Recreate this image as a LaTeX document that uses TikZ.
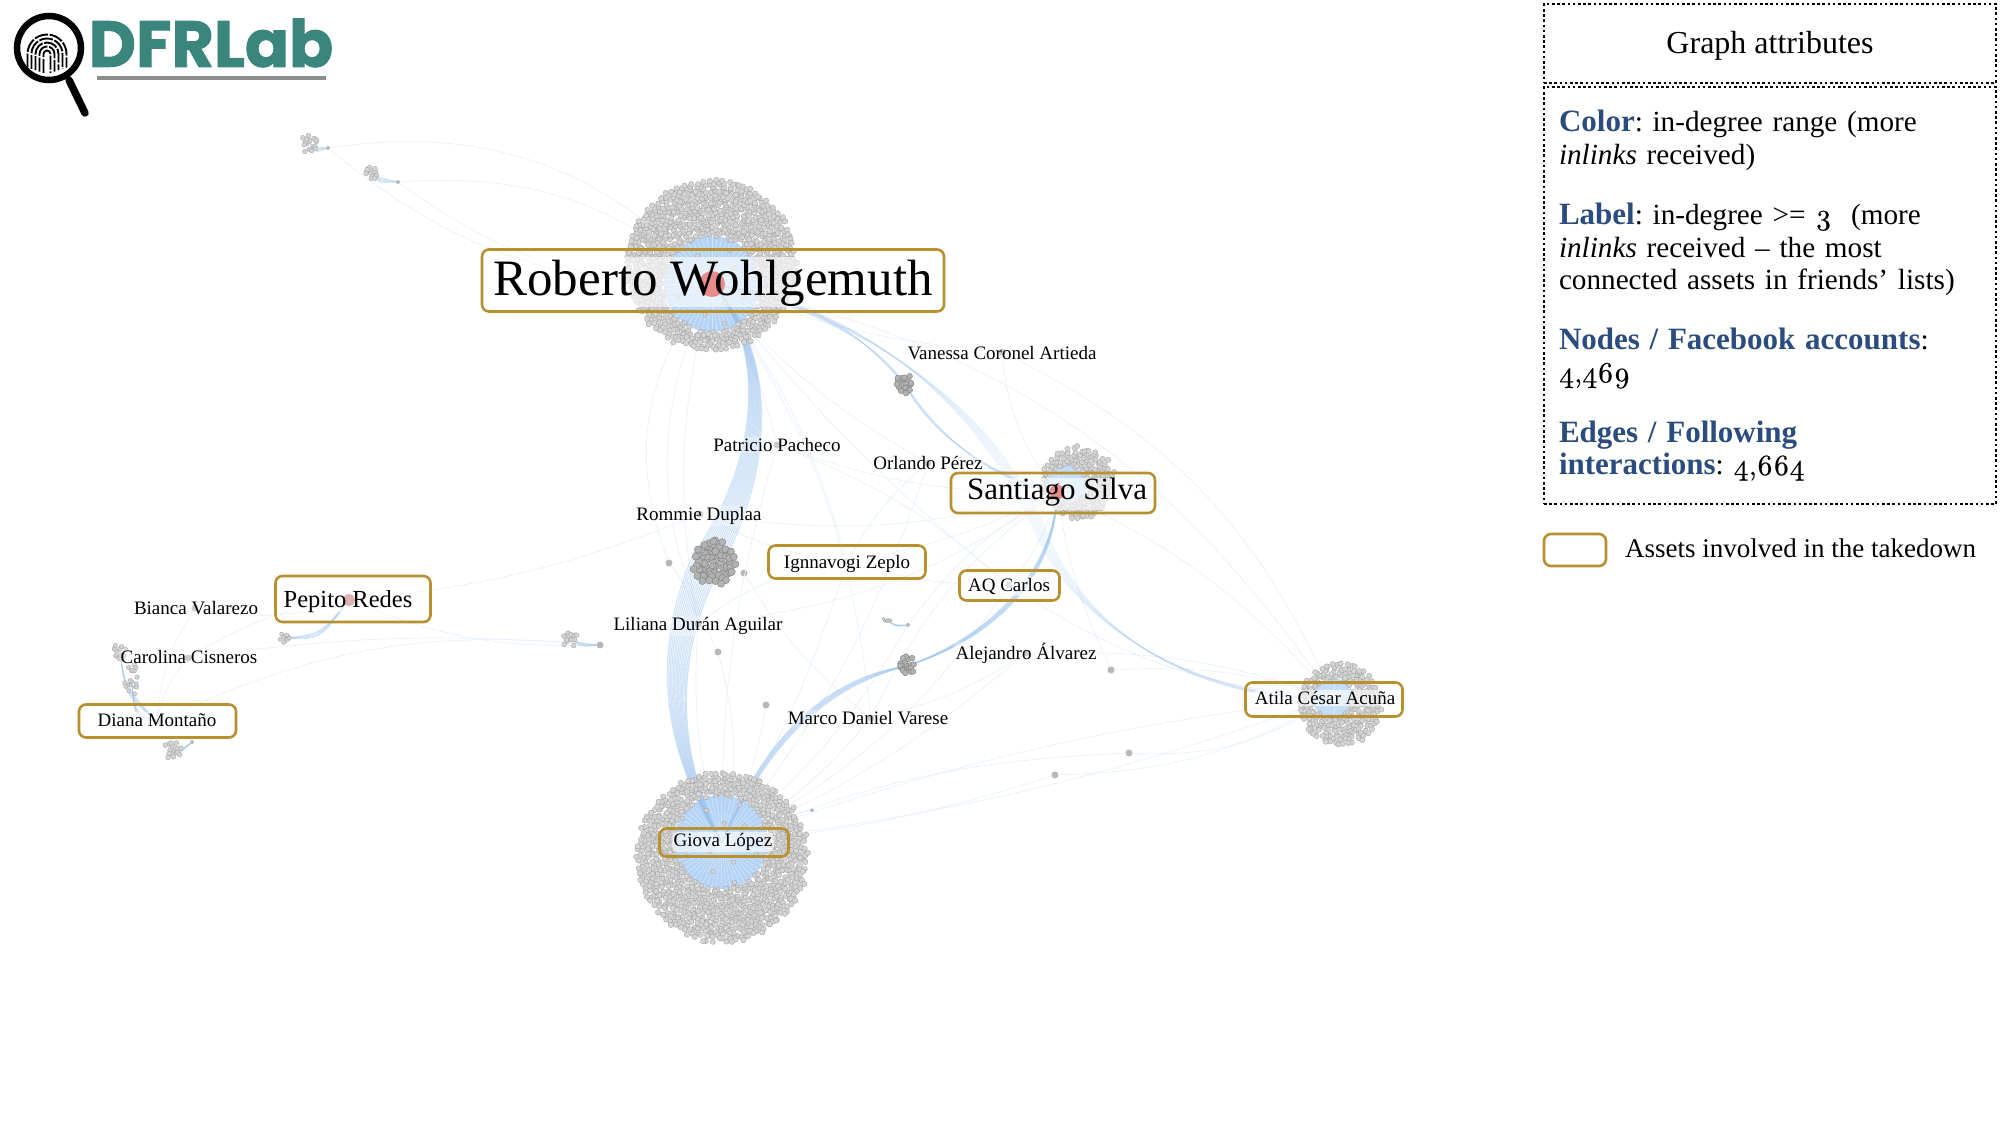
\documentclass[tikz,border=0pt]{standalone}
\usepackage{fontspec}
\setmainfont{Liberation Serif}
\frenchspacing
\newfontfamily\logofont{Poppins}[BoldFeatures={FakeBold=1.4}]
\newfontfamily\oldnum{lmroman10-regular.otf}[Numbers=OldStyle,FakeBold=0.5]
\definecolor{gold}{HTML}{B8902F}
\definecolor{logoteal}{HTML}{3A867C}
\definecolor{headblue}{HTML}{2B4C7E}
\definecolor{edgeblue}{HTML}{9CC3EE}
\definecolor{edgepale}{HTML}{E8F0FB}
\definecolor{discblue}{HTML}{B4D3F5}
\definecolor{hotpink}{HTML}{E98C8C}
\definecolor{softpink}{HTML}{DDB4B4}
\usetikzlibrary{arrows.meta,positioning,calc}
\newcommand{\hd}[1]{{\fontsize{31}{32.6}\selectfont\bfseries\color{headblue}#1}}
\newcommand{\dotcloud}[9]{%
  \foreach \i in {1,...,#7}{%
    \pgfmathsetmacro\ang{360*(0.381966*\i-floor(0.381966*\i))}%
    \pgfmathsetmacro\rad{#3*sqrt(\i/#7)}%
    \pgfmathsetmacro\px{#1+\rad*cos(\ang)+4*rnd-2}%
    \pgfmathsetmacro\py{#2+\rad*sin(\ang)+4*rnd-2}%
    \pgfmathsetmacro\dd{veclen(\px-#4,\py-#5)}%
    \ifdim\dd pt>#6pt \path[#9] (\px,\py) circle[radius=#8];\fi
  }}
\newcommand{\hubdisc}[4]{%
  \fill[discblue] (#1,#2) circle[radius=#3];
  \foreach \a in {0,6,...,354}{\draw[spoke] (#4) -- (#1+#3*cos \a,#2+#3*sin \a);}}
\begin{document}
\begin{tikzpicture}[x=1pt,y=-1pt,
    cdot/.style={fill=black!17, draw=black!36, line width=.35pt},
    ddot/.style={fill=black!30, draw=black!50, line width=.4pt},
    hubdot/.style={circle, fill=black!28, inner sep=0pt, minimum size=7pt},
    hubred/.style={circle, fill=#1, inner sep=0pt},
    spoke/.style={white, opacity=.45, line width=.6pt},
    faint/.style={edgepale, line width=.7pt},
    bundle/.style={edgeblue, opacity=.45, line width=1.2pt},
    lbundle/.style={edgeblue, opacity=.2, line width=.8pt},
    fan/.style={edgeblue, opacity=.5, line width=.7pt},
    asset/.style={draw=gold, line width=2.6pt, rounded corners=7pt, inner sep=0pt},
    tagname/.style={fill=white, fill opacity=.62, text opacity=1, rounded corners=5pt, inner sep=1.5pt},
    tagbare/.style={inner sep=1.5pt},
    halo/.style={white, opacity=.62, rounded corners=5pt},
    attr/.style={draw=black, line width=2.2pt, dash pattern=on 2.6pt off 2.6pt, inner sep=0pt}
]
\useasboundingbox (0,0) rectangle (2000,1125);
\pgfmathsetseed{4469}
\coordinate (hubRoberto) at (712,284);
\coordinate (hubGiova) at (722,843);
\coordinate (hubSantiago) at (1057,492);
\coordinate (hubAtila) at (1333,698);
\coordinate (hubPepito) at (349,600);
\coordinate (clVanessa) at (905,384);
\coordinate (clRommie) at (714,562);
\coordinate (clAlejandro) at (907,666);
\coordinate (clLiliana) at (570,638);
\coordinate (clTopA) at (310,143);
\coordinate (clTopB) at (372,173);
\coordinate (clBianca) at (285,638);
\coordinate (clCarA) at (120,652);
\coordinate (clCarB) at (132,685);
\coordinate (clDiana) at (173,750);
\coordinate (clSmall) at (887,620);
\foreach \nm/\x/\y in {hubVanessa/1002/352,hubPatricio/777/445,hubOrlando/928/463,hubRommie/700/514,
    hubBianca/195/608,hubCarolina/188/658,hubLiliana/698/624,hubAlejandro/1026/653,hubMarco/871/718,
    hubIgnnavogi/847/562,hubAQ/1009/585,hubDiana/157/722,hubLil/600/645,dotA/669/563,dotB/744/573,
    dotC/718/652,dotD/766/705,dotE/1111/670,dotF/1129/753,dotG/1055/775}
  \node[hubdot] (\nm) at (\x,\y) {};
\foreach \nm/\x/\y in {hubTopA/328/148,hubTopB/398/182,hubDia/192/742,hubSmall/908/625,dotH/812/810}
  \node[hubdot, minimum size=4pt] (\nm) at (\x,\y) {};
\foreach \a/\b/\bd in {hubTopA/hubRoberto/28,hubTopB/hubRoberto/22,hubTopA/hubRoberto/-20,hubTopB/hubRoberto/-18,
    hubPepito/hubBianca/14,hubPepito/hubCarolina/-12,hubPepito/hubLil/-12,hubPepito/hubRommie/-8,
    hubDiana/hubLil/15,hubDiana/hubBianca/14,hubDiana/hubCarolina/14,hubCarolina/hubLil/6,
    hubRoberto/hubPatricio/8,hubRoberto/hubOrlando/-10,hubRoberto/hubIgnnavogi/10,hubRoberto/hubAQ/-6,hubRoberto/hubLiliana/-12,
    hubRoberto/dotA/-30,hubRoberto/dotC/-26,hubRoberto/hubVanessa/-8,hubRoberto/hubMarco/14,hubRoberto/hubAtila/22,
    hubGiova/hubMarco/-10,hubGiova/hubAQ/-14,hubGiova/hubIgnnavogi/-6,hubGiova/hubOrlando/-10,hubGiova/hubPatricio/8,
    hubGiova/hubAtila/6,hubGiova/hubAtila/-6,hubGiova/dotF/10,hubGiova/dotG/-6,hubGiova/hubAlejandro/-8,hubGiova/dotC/-14,
    hubGiova/dotD/-8,hubGiova/hubSmall/-10,hubGiova/hubLiliana/10,hubGiova/dotH/6,
    hubSantiago/hubAQ/12,hubSantiago/hubIgnnavogi/8,hubSantiago/hubOrlando/-12,hubSantiago/hubPatricio/10,hubSantiago/hubVanessa/16,
    hubSantiago/hubAtila/12,hubSantiago/hubMarco/-14,hubSantiago/hubRommie/12,hubSantiago/hubLiliana/14,hubSantiago/dotE/-8,
    hubAtila/dotE/-10,hubAtila/dotF/18,hubAtila/dotG/14,hubAtila/hubAQ/14,hubAtila/hubAlejandro/-10,hubAtila/hubVanessa/-20,
    hubIgnnavogi/hubOrlando/10,hubIgnnavogi/hubAQ/-8,hubRommie/hubIgnnavogi/-10,hubLiliana/hubIgnnavogi/14,dotA/hubLiliana/12,
    dotB/hubMarco/-10,hubPatricio/hubAQ/10,hubSmall/hubSantiago/12,hubMarco/hubAlejandro/-10}
  \draw[faint] (\a) to[bend left=\bd] (\b);
\hubdisc{712}{284}{48}{hubRoberto}
\hubdisc{721}{842}{47}{hubGiova}
\hubdisc{1067}{485}{20}{hubSantiago}
\hubdisc{1333}{698}{20}{hubAtila}
\foreach \k in {-1,-.86,...,1.01}{
  \draw[bundle] (hubRoberto) .. controls (765+4*\k,340) and (775+8*\k,450) .. (708+15*\k,560+5*\k)
      .. controls (668+12*\k,640) and (662+8*\k,740) .. (hubGiova);
}
\foreach \k in {-1,-.75,...,1.01}{
  \draw[bundle, opacity=.4, line width=.9pt] (hubSantiago) .. controls (1055+2*\k,580) and (985+6*\k,640) .. (clAlejandro)
      .. controls (835,680+5*\k) and (770+5*\k,730) .. (hubGiova);
}
\foreach \k in {-1,-.75,...,1.01}{
  \draw[lbundle] (hubRoberto) .. controls (850,305+6*\k) and (985+8*\k,400) .. (1040+6*\k,530)
      .. controls (1078+4*\k,625) and (1190,700+4*\k) .. (hubAtila);
  \draw[lbundle] (hubRoberto) .. controls (840,310+6*\k) and (875+5*\k,350) .. (clVanessa)
      .. controls (930+5*\k,430) and (990,480+4*\k) .. (hubSantiago);
}
\foreach \k in {-1,-.5,...,1}{
  \draw[fan] (clTopA) .. controls (315,150+3*\k) .. (hubTopA);
  \draw[fan] (clTopB) .. controls (378,180+3*\k) .. (hubTopB);
  \draw[fan] (clBianca) .. controls (320,637+3*\k) .. (hubPepito);
  \draw[fan] (clLiliana) .. controls (580,645+2*\k) .. (hubLil);
  \draw[fan] (clDiana) .. controls (180,752+2*\k) .. (hubDia);
  \draw[fan] (clCarB) .. controls (135,715+4*\k) .. (hubDiana);
  \draw[fan] (clCarA) .. controls (125,690+4*\k) .. (hubDiana);
  \draw[fan] (clSmall) .. controls (895,626+1*\k) .. (hubSmall);
}
\dotcloud{711}{265}{85}{712}{284}{48}{1500}{2.7}{cdot}
\dotcloud{722}{857}{85}{721}{842}{47}{1500}{2.7}{cdot}
\dotcloud{712}{284}{46}{712}{284}{14}{14}{2.2}{cdot}
\dotcloud{721}{842}{46}{721}{842}{8}{12}{2.2}{cdot}
\dotcloud{1078}{483}{36}{1067}{485}{19}{280}{2.6}{cdot}
\dotcloud{1340}{704}{41}{1333}{698}{20}{360}{2.6}{cdot}
\dotcloud{714}{562}{22}{0}{0}{0}{70}{3.6}{ddot}
\dotcloud{905}{384}{9}{0}{0}{0}{20}{2.8}{ddot}
\dotcloud{907}{666}{9}{0}{0}{0}{20}{2.8}{ddot}
\dotcloud{310}{143}{9}{0}{0}{0}{16}{2.4}{cdot}
\dotcloud{372}{173}{7}{0}{0}{0}{12}{2.4}{cdot}
\dotcloud{570}{638}{7}{0}{0}{0}{14}{2.4}{cdot}
\dotcloud{285}{638}{5}{0}{0}{0}{10}{2}{cdot}
\dotcloud{120}{652}{7}{0}{0}{0}{12}{2.2}{cdot}
\dotcloud{132}{668}{4}{0}{0}{0}{6}{2.2}{cdot}
\dotcloud{132}{685}{8}{0}{0}{0}{12}{2.2}{cdot}
\dotcloud{173}{750}{8}{0}{0}{0}{16}{2.4}{cdot}
\dotcloud{887}{620}{3}{0}{0}{0}{6}{1.6}{cdot}
\fill[halo] (490,257) rectangle (936,307);
\fill[halo] (962,478) rectangle (1152,510);
\fill[halo] (282,585) rectangle (416,612);
\node[hubred=hotpink, minimum size=26pt] (redRoberto) at (hubRoberto) {};
\node[hubred=hotpink, minimum size=15pt] (redSantiago) at (hubSantiago) {};
\node[hubred=softpink, minimum size=12pt] (redPepito) at (hubPepito) {};
\node[asset, minimum width=462pt, minimum height=62pt] (boxRoberto) at (713,280.5) {};
\node[asset, minimum width=204pt, minimum height=40pt] (boxSantiago) at (1053,493) {};
\node[asset, minimum width=155pt, minimum height=46pt] (boxPepito) at (353,599) {};
\node[asset, minimum width=157pt, minimum height=33pt] (boxDiana) at (157.5,721) {};
\node[asset, minimum width=129pt, minimum height=28pt] (boxGiova) at (724,842.5) {};
\node[asset, minimum width=157pt, minimum height=33pt] (boxIgnnavogi) at (847,562) {};
\node[asset, minimum width=100pt, minimum height=30pt] (boxAQ) at (1009.5,585.5) {};
\node[asset, minimum width=157pt, minimum height=34pt] (boxAtila) at (1324,699.5) {};
\node[tagbare, font=\fontsize{51}{58}\selectfont] (nameRoberto) at (713,283) {Roberto Wohlgemuth};
\node[tagbare, font=\fontsize{31}{36}\selectfont] (nameSantiago) at (1057,492) {Santiago Silva};
\node[tagbare, font=\fontsize{24.5}{28}\selectfont] (namePepito) at (348,602) {Pepito Redes};
\node[tagname, font=\fontsize{19}{22}\selectfont] (nameDiana) at (157,720) {Diana Montaño};
\node[tagname, font=\fontsize{19}{22}\selectfont] (nameGiova) at (723,842) {Giova López};
\node[tagname, font=\fontsize{19}{22}\selectfont] (nameIgnnavogi) at (847,564) {Ignnavogi Zeplo};
\node[tagname, font=\fontsize{19}{22}\selectfont] (nameAQ) at (1009,586) {AQ Carlos};
\node[tagname, font=\fontsize{19}{22}\selectfont] (nameAtila) at (1325,698) {Atila César Acuña};
\foreach \nm/\x/\y/\txt in {lblVanessa/1002/353/Vanessa Coronel Artieda,lblPatricio/777/445/Patricio Pacheco,
    lblOrlando/928/463/Orlando Pérez,lblRommie/699/516/Rommie Duplaa,lblBianca/196/608/Bianca Valarezo,
    lblCarolina/189/657/Carolina Cisneros,lblLiliana/698/626/Liliana Durán Aguilar,
    lblAlejandro/1026/653/Alejandro Álvarez,lblMarco/868/718/Marco Daniel Varese}
  \node[tagname, fill opacity=.3, font=\fontsize{19}{22}\selectfont] (\nm) at (\x,\y) {\txt};
\foreach \r in {3.5,7.5,11.5,15.5,19.5}{
  \draw[black, line width=1.9pt, dash pattern=on 14pt off 1.6pt] (47-\r,74-\r/3) -- (47-\r,54) arc[start angle=180, end angle=360, radius=\r] -- (47+\r,74-\r/3);
}
\draw[black, line width=6.5pt] (49,48) circle[radius=32];
\draw[black, line width=7.5pt, line cap=round] (69,80) -- (85,113);
\node[font=\logofont\bfseries\fontsize{65}{70}\selectfont, text=logoteal, inner sep=0pt] (logoName) at (211,43) {DFRLab};
\draw[black!45, line width=4pt] (97,78) -- (326,78);
\node[attr, minimum width=452pt, minimum height=79pt, font=\fontsize{32}{36}\selectfont] (attrTitle) at (1770,43.5) {\raisebox{-10pt}[0pt][0pt]{Graph attributes}};
\node[attr, minimum height=417pt, text width=422pt, inner xsep=15pt, align=left, font=\fontsize{29.2}{32.6}\selectfont] (attrBody) at (1770,295.5) {%
\hd{Color}: in-degree range (more\\
\textit{inlinks} received)\\[27.4pt]
\hd{Label}: in-degree >= {\oldnum 3}\ \ (more\\
\textit{inlinks} received – the most\\
connected assets in friends’ lists)\\[27.4pt]
\hd{Nodes / Facebook accounts}:\\
{\oldnum 4,469}\\[27.4pt]
\hd{Edges / Following}\\
\hd{interactions}: {\oldnum 4,664}\\[-9pt]};
\node[asset, minimum width=62pt, minimum height=32pt] (keyBox) at (1575,550) {};
\node[font=\fontsize{27}{30}\selectfont, anchor=west, inner sep=0pt] (keyText) at (1625,548) {Assets involved in the takedown};
\end{tikzpicture}
\end{document}
